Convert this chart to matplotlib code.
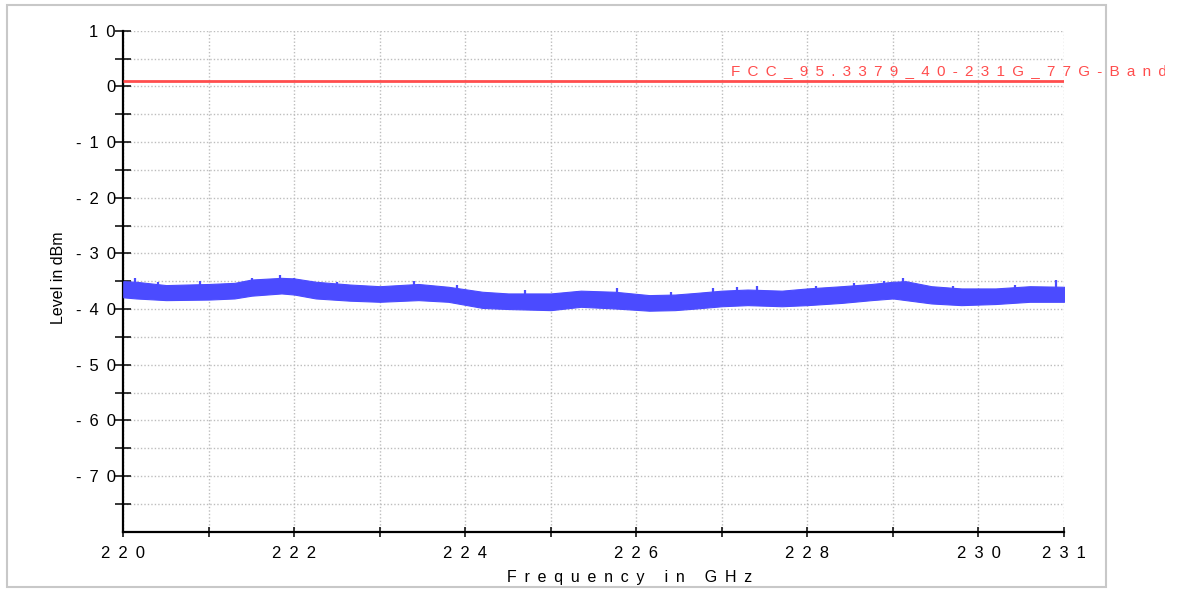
import matplotlib
matplotlib.use('Agg')
import matplotlib.pyplot as plt
from matplotlib.patches import Rectangle
from matplotlib.transforms import Bbox, TransformedBbox

# ---------------- data ----------------
freq_ghz = [220.00, 220.15, 220.50, 221.00, 221.30, 221.50, 221.85, 222.00,
            222.25, 222.65, 223.00, 223.45, 223.80, 224.20, 224.50, 225.00,
            225.35, 225.75, 226.15, 226.45, 226.70, 227.00, 227.30, 227.70,
            228.00, 228.40, 228.75, 229.00, 229.15, 229.45, 229.80, 230.20,
            230.60, 231.00]
band_top_dbm = [-35.0, -35.1, -35.7, -35.5, -35.3, -34.7, -34.4, -34.5,
                -35.1, -35.6, -35.9, -35.5, -36.0, -36.9, -37.2, -37.2,
                -36.7, -36.9, -37.5, -37.4, -37.1, -36.7, -36.5, -36.7,
                -36.3, -35.9, -35.5, -35.1, -35.0, -35.9, -36.3, -36.3,
                -35.9, -36.0]
band_bottom_dbm = [-37.9, -38.1, -38.4, -38.3, -38.1, -37.6, -37.2, -37.4,
                   -38.1, -38.5, -38.7, -38.4, -38.7, -39.8, -40.0, -40.2,
                   -39.6, -39.9, -40.3, -40.2, -39.9, -39.5, -39.3, -39.5,
                   -39.3, -38.9, -38.4, -38.1, -38.4, -39.0, -39.3, -39.1,
                   -38.7, -38.7]
spike_ghz = [220.14, 220.40, 220.90, 221.50, 221.83, 222.00, 222.50, 223.40,
             223.90, 224.70, 225.30, 225.77, 226.40, 226.90, 227.18, 227.41,
             228.10, 228.55, 228.89, 229.12, 229.70, 230.43, 230.91]
spike_top_dbm = [-34.5, -35.2, -35.0, -34.5, -33.8, -34.4, -35.1, -35.0,
                 -35.6, -36.6, -36.7, -36.3, -36.9, -36.3, -36.1, -35.9,
                 -35.8, -35.3, -35.0, -34.4, -35.8, -35.6, -34.8]

limit_dbm = 0.9
limit_label = "FCC_95.3379_40-231G_77G-Band"
limit_label_ghz = 227.11
limit_label_dbm = 2.05

x_grid = list(range(220, 232))
x_labeled = [220, 222, 224, 226, 228, 230, 231]
y_grid = list(range(-75, 11, 5))
y_labeled = list(range(-70, 11, 10))

x_title = "Frequency in GHz"
y_title = "Level in dBm"

BLUE = '#4B4BFF'
RED = '#FF4D4D'
GAP = ' \u2009'


def track(s):
    return GAP.join(s)


plt.rcParams['font.family'] = ['Liberation Sans', 'DejaVu Sans']

W, H = 1177, 589
fig = plt.figure(figsize=(W / 100, H / 100), dpi=100)
fig.patch.set_facecolor('white')
ax = fig.add_axes([123.3 / W, (H - 531.7) / H, (1064 - 123.3) / W, 501 / H])

# trace band
ax.fill_between(freq_ghz, band_bottom_dbm, band_top_dbm, color=BLUE, lw=0.8,
                edgecolor=BLUE, zorder=3)
ax.vlines(spike_ghz, [t - 2.0 for t in spike_top_dbm], spike_top_dbm,
          color=BLUE, lw=1.6, zorder=3)

# limit line
ax.plot([x_grid[0], x_grid[-1]], [limit_dbm, limit_dbm], color=RED, lw=2.0,
        zorder=4, solid_capstyle='butt')
t = ax.text(limit_label_ghz, limit_label_dbm, track(limit_label), color=RED,
            fontsize=11, ha='left', va='baseline', zorder=5)
t.set_clip_box(TransformedBbox(Bbox([[0, 0], [1165 / W, 1]]), fig.transFigure))
t.set_clip_on(True)

ax.set_xlim(220, 231)
ax.set_ylim(-80, 10)

ax.set_xticks(x_grid)
ax.set_xticklabels([track(str(v)) if v in x_labeled else '' for v in x_grid])
ax.set_yticks(y_grid)
ax.set_yticklabels([track(str(v)) if v in y_labeled else '' for v in y_grid])

ax.grid(True, color='#BDBDBD', lw=1.0, linestyle=(0, (1, 1.5)))
ax.set_axisbelow(True)

for s in ['top', 'right']:
    ax.spines[s].set_visible(False)
for s in ['left', 'bottom']:
    ax.spines[s].set_linewidth(1.6)
    ax.spines[s].set_color('black')

ax.tick_params(axis='y', direction='inout', length=11, width=1.1, pad=0,
               labelsize=12, colors='black')
ax.tick_params(axis='x', direction='inout', length=7.2, width=1.1, pad=7,
               labelsize=12, colors='black')

fig.text(630 / W, (H - 581.7) / H, track(x_title), fontsize=11.5,
         ha='center', va='baseline')
fig.text(58.7 / W, 1 - 278 / H, y_title, fontsize=11.5, rotation=90,
         ha='center', va='center')

fig.patches.append(Rectangle((7 / W, 2 / H), 1099 / W, 582 / H,
                             transform=fig.transFigure, fill=False,
                             edgecolor='#C8C8C8', lw=1.5))

fig.savefig('out.png', dpi=100)
